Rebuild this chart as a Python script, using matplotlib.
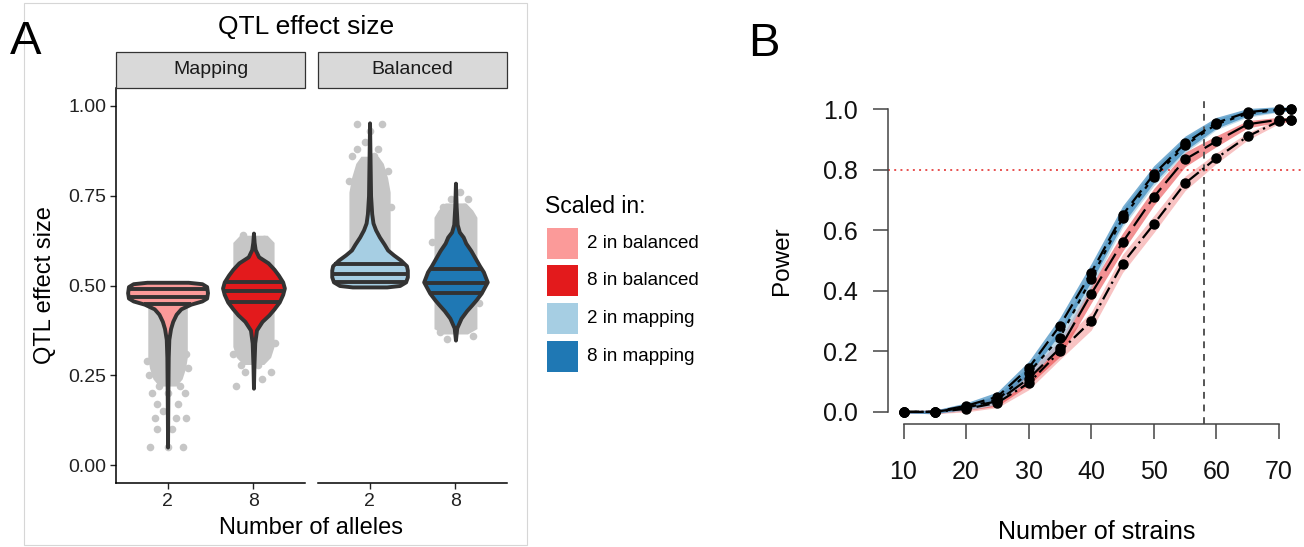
import numpy as np
import matplotlib
matplotlib.use("Agg")
import matplotlib.pyplot as plt
from matplotlib.patches import Rectangle

plt.rcParams['font.family'] = ['Liberation Sans', 'DejaVu Sans']

# ---------------- data: panel A (violin profiles) ----------------
# each violin: y levels and half-widths (x units), plus the three quartile lines
m2_y = [0.509, 0.505, 0.497, 0.48, 0.465, 0.457, 0.448, 0.435, 0.42, 0.40, 0.38, 0.35, 0.30, 0.20, 0.05]
m2_w = [0.24, 0.40, 0.455, 0.465, 0.455, 0.40, 0.27, 0.155, 0.10, 0.06, 0.035, 0.015, 0.008, 0.004, 0.0]
m2_q = [0.49, 0.468, 0.448]

m8_y = [0.646, 0.62, 0.60, 0.58, 0.563, 0.545, 0.529, 0.51, 0.493, 0.475, 0.454, 0.435, 0.418, 0.40, 0.376, 0.34, 0.28, 0.214]
m8_w = [0.0, 0.008, 0.02, 0.06, 0.17, 0.24, 0.29, 0.34, 0.36, 0.34, 0.30, 0.24, 0.18, 0.10, 0.035, 0.015, 0.006, 0.0]
m8_q = [0.51, 0.485, 0.454]

b2_y = [0.953, 0.85, 0.75, 0.70, 0.674, 0.655, 0.635, 0.615, 0.599, 0.585, 0.571, 0.555, 0.543, 0.524, 0.51, 0.50, 0.496]
b2_w = [0.0, 0.006, 0.012, 0.025, 0.04, 0.07, 0.115, 0.17, 0.21, 0.28, 0.36, 0.43, 0.44, 0.44, 0.42, 0.35, 0.20]
b2_q = [0.56, 0.532, 0.51]

b8_y = [0.785, 0.72, 0.67, 0.649, 0.635, 0.618, 0.597, 0.576, 0.555, 0.538, 0.51, 0.479, 0.46, 0.446, 0.43, 0.409, 0.382, 0.348]
b8_w = [0.0, 0.008, 0.02, 0.045, 0.09, 0.12, 0.18, 0.23, 0.28, 0.325, 0.37, 0.30, 0.24, 0.19, 0.13, 0.065, 0.015, 0.0]
b8_q = [0.546, 0.507, 0.479]

# grey jittered cloud behind each violin: y levels / half-widths of the dense part
m2_cloud_y = [0.51, 0.30, 0.27, 0.24, 0.22]
m2_cloud_w = [0.23, 0.23, 0.21, 0.17, 0.10]
m8_cloud_y = [0.64, 0.62, 0.33, 0.30, 0.28]
m8_cloud_w = [0.16, 0.24, 0.24, 0.20, 0.12]
b2_cloud_y = [0.50, 0.76, 0.80, 0.84, 0.86]
b2_cloud_w = [0.24, 0.24, 0.21, 0.16, 0.10]
b8_cloud_y = [0.365, 0.38, 0.69, 0.71, 0.73]
b8_cloud_w = [0.14, 0.25, 0.25, 0.20, 0.12]

# sparse outlying points (x offset from category centre, y)
m2_out_dx = [-0.20, 0.0, 0.18, -0.12, 0.05, -0.15, 0.10, 0.22, -0.05, -0.12, 0.12, -0.18, 0.0, 0.20, -0.10,
             0.15, -0.22, 0.24, -0.24, 0.22]
m2_out_y = [0.05, 0.05, 0.05, 0.10, 0.10, 0.13, 0.13, 0.13, 0.15, 0.17, 0.17, 0.20, 0.20, 0.20, 0.22,
            0.22, 0.25, 0.27, 0.29, 0.31]
m8_out_dx = [-0.20, 0.10, -0.10, 0.20, -0.15, 0.05, -0.24, 0.25, -0.12, 0.12]
m8_out_y = [0.22, 0.24, 0.26, 0.26, 0.28, 0.28, 0.31, 0.34, 0.64, 0.63]
b2_out_dx = [-0.15, 0.15, 0.0, -0.15, 0.10, -0.20, 0.05, -0.05, 0.22, -0.24, 0.25]
b2_out_y = [0.95, 0.95, 0.93, 0.88, 0.88, 0.86, 0.86, 0.90, 0.82, 0.79, 0.72]
b8_out_dx = [-0.15, 0.10, -0.05, 0.05, -0.10, 0.20, 0.15, -0.27, 0.27, -0.18]
b8_out_y = [0.72, 0.72, 0.74, 0.76, 0.35, 0.36, 0.74, 0.62, 0.45, 0.37]

allele_labels = ['2', '8']
legend_labels = ['2 in balanced', '8 in balanced', '2 in mapping', '8 in mapping']
legend_colors = ['#fb9a99', '#e31a1c', '#a6cee3', '#1f78b4']

# ---------------- data: panel B (power curves) ----------------
strains = [10, 15, 20, 25, 30, 35, 40, 45, 50, 55, 60, 65, 70, 72]
power_map8 = [0.0, 0.0, 0.02, 0.05, 0.145, 0.285, 0.46, 0.65, 0.785, 0.887, 0.955, 0.99, 1.0, 1.0]
power_map2 = [0.0, 0.0, 0.015, 0.04, 0.13, 0.245, 0.44, 0.64, 0.775, 0.88, 0.95, 0.985, 0.998, 1.0]
power_bal8 = [0.0, 0.0, 0.015, 0.035, 0.11, 0.21, 0.39, 0.56, 0.71, 0.834, 0.894, 0.95, 0.965, 0.965]
power_bal2 = [0.0, 0.0, 0.01, 0.03, 0.095, 0.20, 0.30, 0.49, 0.62, 0.755, 0.838, 0.91, 0.96, 0.965]
band_half = [0.004, 0.006, 0.01, 0.016, 0.022, 0.027, 0.03, 0.03, 0.028, 0.024, 0.018, 0.012, 0.008, 0.006]
power_target = 0.8
chosen_strains = 58

W, H = 1304, 547
fig = plt.figure(figsize=(W / 100, H / 100), dpi=100)


def fx(px):
    return px / W


def fy(py):
    return 1 - py / H


DARK = '#333333'
CLOUD = '#c6c6c6'

# frame around panel A
fig.add_artist(Rectangle((fx(24), fy(545)), fx(503), (545 - 3) / H, transform=fig.transFigure,
                         fill=False, edgecolor='#d6d6d6', lw=0.8))


def draw_violin(ax, pos, vy, vw, qs, color, cy, cw, odx, oy):
    cy = np.array(cy)
    cw = np.array(cw)
    ax.fill_betweenx(cy, pos - cw, pos + cw, color=CLOUD, lw=0, zorder=1)
    ax.scatter(pos + np.array(odx), oy, s=30, color=CLOUD, lw=0, zorder=1)
    vy = np.array(vy)
    vw = np.array(vw)
    ax.fill_betweenx(vy, pos - vw, pos + vw, facecolor=color, edgecolor=DARK, lw=2.8, zorder=3)
    order = np.argsort(vy)
    for q in qs:
        w = np.interp(q, vy[order], vw[order])
        ax.plot([pos - w, pos + w], [q, q], color=DARK, lw=2.8, solid_capstyle='butt', zorder=4)


panels = [
    ('Mapping', 116, [(m2_y, m2_w, m2_q, legend_colors[0], m2_cloud_y, m2_cloud_w, m2_out_dx, m2_out_y),
                      (m8_y, m8_w, m8_q, legend_colors[1], m8_cloud_y, m8_cloud_w, m8_out_dx, m8_out_y)]),
    ('Balanced', 318, [(b2_y, b2_w, b2_q, legend_colors[2], b2_cloud_y, b2_cloud_w, b2_out_dx, b2_out_y),
                       (b8_y, b8_w, b8_q, legend_colors[3], b8_cloud_y, b8_cloud_w, b8_out_dx, b8_out_y)]),
]

for i, (name, left, violins) in enumerate(panels):
    ax = fig.add_axes([fx(left), fy(483), fx(189), (483 - 88) / H])
    for j, v in enumerate(violins):
        draw_violin(ax, j + 1, *v)
    ax.set_xlim(0.4, 2.6)
    ax.set_ylim(-0.05, 1.05)
    ax.set_xticks([1, 2])
    ax.set_xticklabels(allele_labels)
    for s in ['top', 'right']:
        ax.spines[s].set_visible(False)
    ax.spines['bottom'].set_linewidth(1.1)
    ax.spines['left'].set_linewidth(1.1)
    ax.tick_params(axis='both', length=4, width=1, labelsize=14, colors='#222222', pad=3)
    if i == 0:
        ax.set_yticks([0, 0.25, 0.5, 0.75, 1.0])
        ax.set_yticklabels(['0.00', '0.25', '0.50', '0.75', '1.00'])
    else:
        ax.spines['left'].set_visible(False)
        ax.set_yticks([])
    # facet strip
    fig.add_artist(Rectangle((fx(left), fy(88)), fx(189), 36 / H, transform=fig.transFigure,
                             facecolor='#d9d9d9', edgecolor=DARK, lw=0.9))
    fig.text(fx(left + 94.5), fy(70), name, ha='center', va='center', fontsize=14, color='#1a1a1a')

fig.text(fx(306), fy(27), 'QTL effect size', ha='center', va='center', fontsize=19)
fig.text(fx(311), fy(528), 'Number of alleles', ha='center', va='center', fontsize=17)
fig.text(fx(45), fy(285), 'QTL effect size', ha='center', va='center', fontsize=17, rotation=90)
fig.text(fx(26), fy(42), 'A', ha='center', va='center', fontsize=34)
fig.text(fx(764), fy(44), 'B', ha='center', va='center', fontsize=34)

# legend for the fill colours
fig.text(fx(545), fy(207), 'Scaled in:', ha='left', va='center', fontsize=16.5)
for k, (lab, col) in enumerate(zip(legend_labels, legend_colors)):
    yc = 243 + k * 37.7
    fig.add_artist(Rectangle((fx(547), fy(yc + 15.5)), fx(31), 31 / H, transform=fig.transFigure,
                             facecolor=col, edgecolor='none'))
    fig.text(fx(587), fy(yc), lab, ha='left', va='center', fontsize=13.5)

# ---------------- panel B ----------------
ax2 = fig.add_axes([fx(888), fy(424), fx(1307 - 888), (424 - 97) / H])
x = np.array(strains)
hw = np.array(band_half)
series = [
    (power_bal2, '#f5a3a3', 0.65, (0, (6, 2, 1, 2))),
    (power_bal8, '#e8383a', 0.55, (0, (9, 3))),
    (power_map2, '#a6cee3', 0.7, (0, (2, 3))),
    (power_map8, '#1f78b4', 0.6, (0, (7, 3))),
]
for ys, col, al, _ in series:
    ys = np.array(ys)
    ax2.fill_between(x, ys - hw, ys + hw, color=col, alpha=al, lw=0, zorder=1)
for ys, _, _, ls in series:
    ax2.plot(x, ys, color='black', lw=1.6, linestyle=ls, zorder=3)
    ax2.plot(x, ys, 'o', color='black', markersize=6.5, zorder=4)

ax2.axhline(power_target, color='#e8504f', lw=1.4, linestyle=(0, (1, 2.2)), zorder=2)
ax2.axvline(chosen_strains, color='#555555', lw=1.4, linestyle=(0, (3.5, 3)), zorder=2)

ax2.set_xlim(7.52, 74.48)
ax2.set_ylim(-0.04, 1.04)
ax2.set_xticks([10, 20, 30, 40, 50, 60, 70])
ax2.set_yticks([0, 0.2, 0.4, 0.6, 0.8, 1.0])
ax2.set_yticklabels(['0.0', '0.2', '0.4', '0.6', '0.8', '1.0'])
for s in ['top', 'right']:
    ax2.spines[s].set_visible(False)
ax2.spines['left'].set_bounds(0, 1)
ax2.spines['bottom'].set_bounds(10, 70)
for s in ['left', 'bottom']:
    ax2.spines[s].set_linewidth(1.1)
    ax2.spines[s].set_color('#444444')
ax2.tick_params(axis='both', length=10.8, width=1.1, colors='#444444', labelsize=18, labelcolor='#111111')
ax2.tick_params(axis='y', pad=11)
ax2.tick_params(axis='x', pad=15)
fig.text(fx(782), fy(261), 'Power', ha='center', va='center', fontsize=17.5, rotation=90)
fig.text(fx(1097), fy(532), 'Number of strains', ha='center', va='center', fontsize=18)

fig.savefig('out.png', dpi=100)
